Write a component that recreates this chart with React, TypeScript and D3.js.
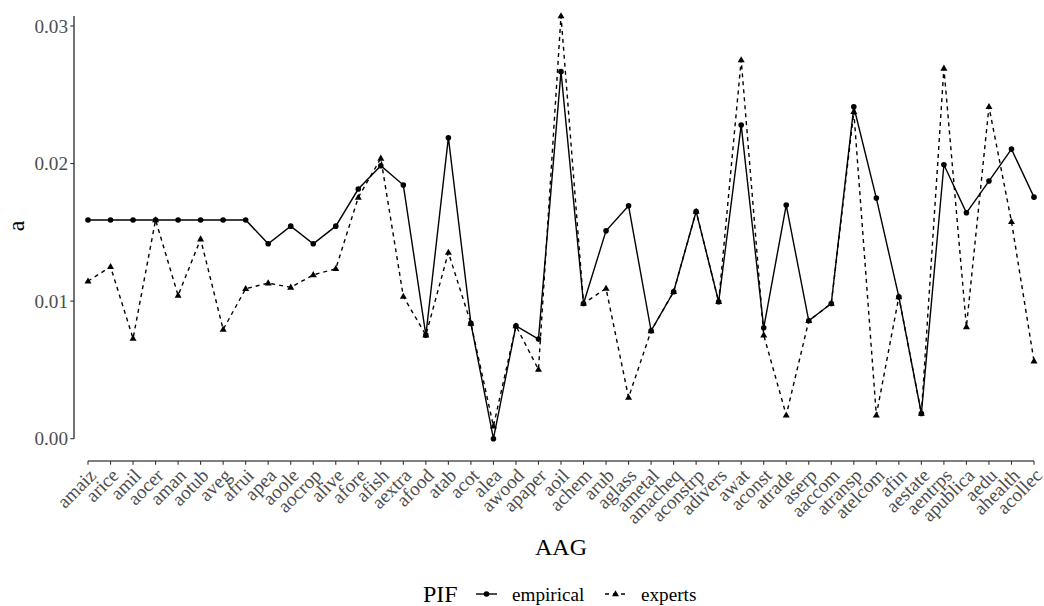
import React from "react";
import * as d3 from "d3";

const categories = ["amaiz","arice","amil","aocer","aman","aotub","aveg","afrui","apea","aoole","aocrop","alive","afore","afish","aextra","afood","atab","acot","alea","awood","apaper","aoil","achem","arub","aglass","ametal","amacheq","aconstrp","adivers","awat","aconst","atrade","aserp","aaccom","atransp","atelcom","afin","aestate","aentrps","apublica","aedu","ahealth","acollec"];

const empirical = [0.0159,0.0159,0.0159,0.0159,0.0159,0.0159,0.0159,0.0159,0.01417,0.01545,0.01417,0.01545,0.01815,0.01984,0.01844,0.00753,0.02188,0.00838,0.0,0.0082,0.00724,0.02668,0.00983,0.01511,0.01693,0.00784,0.01068,0.01652,0.00995,0.0228,0.00806,0.01698,0.00857,0.00983,0.02413,0.01749,0.01031,0.00183,0.01991,0.01642,0.01873,0.02105,0.01756];

const experts = [0.01145,0.0125,0.00729,0.0159,0.01041,0.01451,0.00794,0.0109,0.01131,0.011,0.01191,0.01235,0.01754,0.02038,0.01034,0.00753,0.01354,0.00838,0.00091,0.0082,0.00503,0.03073,0.00983,0.01092,0.003,0.00784,0.01068,0.01652,0.00995,0.02753,0.00753,0.00171,0.00857,0.00983,0.02377,0.00171,0.01031,0.00183,0.02692,0.00813,0.02413,0.01577,0.00564];

const yTicks = [0, 0.01, 0.02, 0.03];
const yTickLabels = ["0.00", "0.01", "0.02", "0.03"];
const seriesNames = ["empirical", "experts"];

const FONT = "'Liberation Serif', 'DejaVu Serif', serif";
const GREY = "#4d4d4d";

function tri(cx: number, cy: number, s: number) {
  const h = s * 0.866;
  return `M${cx},${cy - h * 0.62}L${cx + s / 2},${cy + h * 0.38}L${cx - s / 2},${cy + h * 0.38}Z`;
}

export default function App() {
  const W = 1044, H = 606;
  const x = d3.scalePoint<string>().domain(categories).range([88, 1034]);
  const y = d3.scaleLinear().domain([0, 0.03]).range([438.7, 26]);
  const all = empirical.concat(experts);
  const yMin = d3.min(all) as number;
  const yMax = d3.max(all) as number;
  const axisX = 74;
  const axisY = 461;

  const line = d3.line<number>().x((_, i) => x(categories[i]) as number).y((d) => y(d));

  return (
    <svg width={W} height={H} style={{ position: "absolute", left: 0, top: 0, background: "#fff" }}>
      {/* y axis range frame */}
      <line x1={axisX} x2={axisX} y1={y(yMin)} y2={y(yMax)} stroke="#000" strokeWidth={1.1} />
      {yTicks.map((t, i) => (
        <g key={i}>
          <line x1={axisX - 3.7} x2={axisX} y1={y(t)} y2={y(t)} stroke="#333" strokeWidth={1.1} />
          <text x={axisX - 6} y={y(t)} dy="0.35em" textAnchor="end" fontFamily={FONT} fontSize={19.2} fill={GREY}>
            {yTickLabels[i]}
          </text>
        </g>
      ))}
      {/* x axis range frame */}
      <line x1={x(categories[0])} x2={x(categories[categories.length - 1])} y1={axisY} y2={axisY} stroke="#000" strokeWidth={1.1} />
      {categories.map((c) => (
        <g key={c}>
          <line x1={x(c)} x2={x(c)} y1={axisY} y2={axisY + 3.7} stroke="#333" strokeWidth={1.1} />
          <text
            transform={`translate(${(x(c) as number) - 0.5},${axisY + 6}) rotate(-45)`}
            dy="0.72em"
            textAnchor="end"
            fontFamily={FONT}
            fontSize={19.2}
            fill={GREY}
          >
            {c}
          </text>
        </g>
      ))}
      {/* titles */}
      <text transform={`translate(24,226) rotate(-90)`} textAnchor="middle" fontFamily={FONT} fontSize={24} fill="#000">a</text>
      <text x={561} y={555} textAnchor="middle" fontFamily={FONT} fontSize={24} fill="#000">AAG</text>

      {/* series */}
      <path d={line(empirical) || ""} fill="none" stroke="#000" strokeWidth={1.4} />
      <path d={line(experts) || ""} fill="none" stroke="#000" strokeWidth={1.4} strokeDasharray="4,4" />
      {empirical.map((v, i) => (
        <circle key={"e" + i} cx={x(categories[i])} cy={y(v)} r={2.8} fill="#000" />
      ))}
      {experts.map((v, i) => (
        <path key={"x" + i} d={tri(x(categories[i]) as number, y(v), 7)} fill="#000" />
      ))}

      {/* legend */}
      <text x={423} y={602} fontFamily={FONT} fontSize={24} fill="#000">PIF</text>
      <line x1={476} x2={497} y1={594} y2={594} stroke="#000" strokeWidth={1.4} />
      <circle cx={486.5} cy={594} r={2.8} fill="#000" />
      <text x={512} y={600.5} fontFamily={FONT} fontSize={19.2} fill="#000">{seriesNames[0]}</text>
      <line x1={605} x2={626} y1={594} y2={594} stroke="#000" strokeWidth={1.4} strokeDasharray="4,4" />
      <path d={tri(615.5, 594, 7)} fill="#000" />
      <text x={641} y={600.5} fontFamily={FONT} fontSize={19.2} fill="#000">{seriesNames[1]}</text>
    </svg>
  );
}
